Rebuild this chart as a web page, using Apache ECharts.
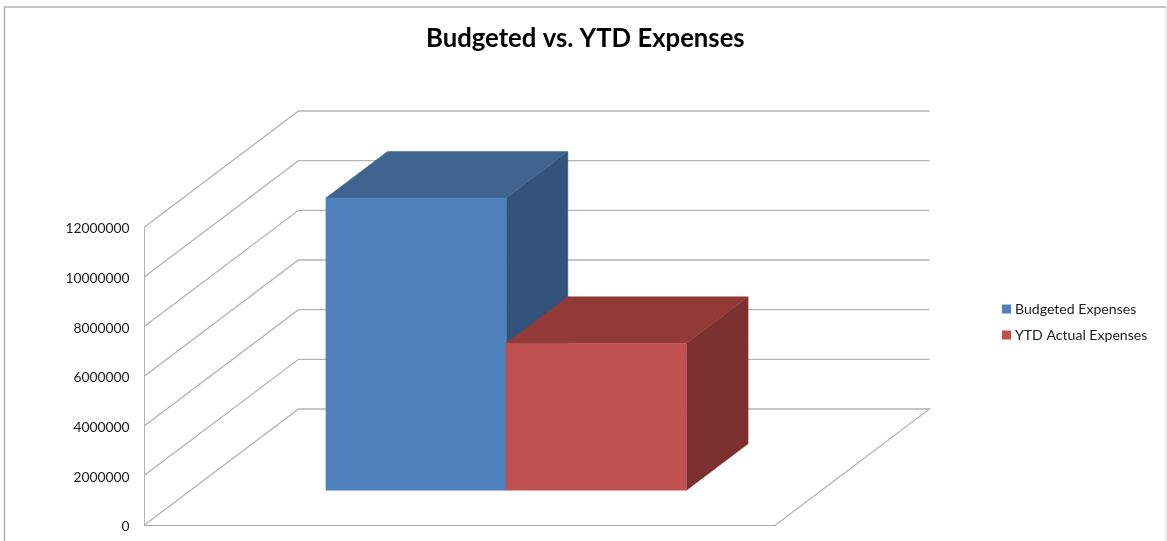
<!DOCTYPE html>
<html>
<head>
<meta charset="utf-8">
<style>html,body{margin:0;padding:0;background:#fff}#chart{width:1167px;height:541px}</style>
<script src="https://cdn.jsdelivr.net/npm/echarts@6/dist/echarts.min.js"></script>
</head>
<body>
<div id="chart"></div>
<script>
// Chart values
const categories = ['Expenses'];
const budgetedExpenses = [11770000];
const ytdActualExpenses = [5920000];
const axisTicks = [0, 2000000, 4000000, 6000000, 8000000, 10000000, 12000000];

// Oblique projection of the box: how far the back wall sits from the front plane
const wallDepth = { x: 154, y: 116 };
const barDepthStart = 0.3;
const barDepthSize = 0.4;
const barsPerBand = 3.5;

const lineColor = '#b4b4b4';
const fontFamily = 'Lato, "Open Sans", sans-serif';

// Left wall, back wall and floor rules for one axis tick
function renderWallLine(params, api) {
  const tick = api.value(0);
  const front = api.coord([0, tick]);
  const size = api.size([1, 0]);
  const halfBand = size[0] / 2;
  const left = front[0] - halfBand;
  const right = front[0] + halfBand;
  const points = [
    [left, front[1]],
    [left + wallDepth.x, front[1] - wallDepth.y],
    [right + wallDepth.x, front[1] - wallDepth.y]
  ];
  if (tick === 0) points.push([right, front[1]]);
  return {
    type: 'polyline',
    silent: true,
    shape: { points },
    style: { stroke: lineColor, lineWidth: 1.3, fill: null }
  };
}

// One extruded column: front, top and right faces
function columnRenderer(slot, colors) {
  return function (params, api) {
    const cat = api.value(0);
    const top = api.coord([cat, api.value(1)]);
    const base = api.coord([cat, 0]);
    const width = api.size([1, 0])[0] / barsPerBand;
    const offX = wallDepth.x * barDepthStart;
    const offY = wallDepth.y * barDepthStart;
    const dx = wallDepth.x * barDepthSize;
    const dy = wallDepth.y * barDepthSize;
    const x0 = top[0] + offX + slot * width;
    const x1 = x0 + width;
    const yTop = top[1] - offY;
    const yBase = base[1] - offY;
    const poly = (points, fill) => ({
      type: 'polygon',
      shape: { points },
      style: { fill, stroke: fill, lineWidth: 0.5 }
    });
    return {
      type: 'group',
      children: [
        poly([[x1, yTop], [x1 + dx, yTop - dy], [x1 + dx, yBase - dy], [x1, yBase]], colors.side),
        poly([[x0, yTop], [x0 + dx, yTop - dy], [x1 + dx, yTop - dy], [x1, yTop]], colors.top),
        poly([[x0, yTop], [x1, yTop], [x1, yBase], [x0, yBase]], colors.front)
      ]
    };
  };
}

const chart = echarts.init(document.getElementById('chart'), null, { renderer: 'canvas' });
chart.setOption({
  animation: false,
  backgroundColor: '#ffffff',
  title: {
    text: 'Budgeted vs. YTD Expenses',
    left: 426,
    top: 26,
    padding: 0,
    textStyle: { fontFamily, fontSize: 25.7, fontWeight: 'bold', color: '#000000' }
  },
  legend: {
    orient: 'vertical',
    left: 1002,
    top: 302,
    padding: 0,
    itemWidth: 9,
    itemHeight: 9,
    itemGap: 12,
    icon: 'rect',
    data: ['Budgeted Expenses', 'YTD Actual Expenses'],
    textStyle: { fontFamily, fontSize: 14.1, color: '#1a1a1a', padding: [0, 0, 0, -1] }
  },
  grid: { left: 144.5, right: 391.5, top: 227, bottom: 16 },
  xAxis: {
    type: 'category',
    data: categories,
    axisLine: { lineStyle: { color: '#a8a8a8', width: 1 } },
    axisTick: { show: false },
    axisLabel: { show: false },
    splitLine: { show: false }
  },
  yAxis: {
    type: 'value',
    min: 0,
    max: 12000000,
    interval: 2000000,
    axisLine: { show: true, lineStyle: { color: lineColor, width: 1 } },
    axisTick: { show: false },
    axisLabel: {
      margin: 15,
      fontFamily,
      fontSize: 13.8,
      color: '#1a1a1a',
      verticalAlign: 'top',
      lineHeight: 4,
      formatter: v => String(v)
    },
    splitLine: { show: false }
  },
  series: [
    {
      type: 'custom',
      name: 'walls',
      z: 1,
      renderItem: renderWallLine,
      encode: { y: 0 },
      data: axisTicks.map(t => [t])
    },
    {
      type: 'custom',
      name: 'Budgeted Expenses',
      z: 2,
      itemStyle: { color: '#4f81bd' },
      renderItem: columnRenderer(-1, { front: '#4f81bd', top: '#3e638f', side: '#32547c' }),
      encode: { x: 0, y: 1 },
      data: categories.map((c, i) => [i, budgetedExpenses[i]])
    },
    {
      type: 'custom',
      name: 'YTD Actual Expenses',
      z: 3,
      itemStyle: { color: '#c0504d' },
      renderItem: columnRenderer(0, { front: '#c0504d', top: '#923a38', side: '#7c3130' }),
      encode: { x: 0, y: 1 },
      data: categories.map((c, i) => [i, ytdActualExpenses[i]])
    }
  ],
  graphic: [
    {
      type: 'polyline',
      silent: true,
      shape: { points: [[4.5, 541], [4.5, 7], [1166, 7]] },
      style: { stroke: '#b0b0b0', lineWidth: 1.5, fill: null }
    },
    {
      type: 'line',
      silent: true,
      shape: { x1: 1166, y1: 7, x2: 1166, y2: 541 },
      style: { stroke: '#d4d4d4', lineWidth: 1 }
    }
  ]
});
</script>
</body>
</html>
